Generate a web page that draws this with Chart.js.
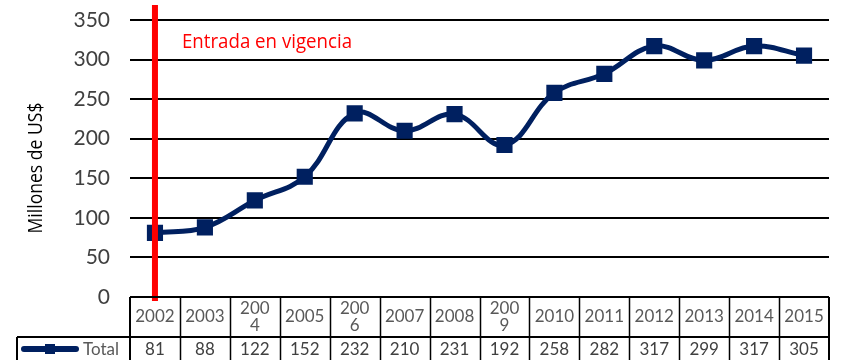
<!DOCTYPE html>
<html>
<head>
<meta charset="utf-8">
<script src="https://cdn.jsdelivr.net/npm/chart.js@4"></script>
<style>
  html, body { margin: 0; padding: 0; background: #fff; }
  #wrap { width: 841px; height: 360px; position: relative; }
</style>
</head>
<body>
<div id="wrap"><canvas id="chart"></canvas></div>
<script>
// Categories (as shown in the table header) and series values
const years = ['2002', '2003', ['200', '4'], '2005', ['200', '6'], '2007', '2008', ['200', '9'], '2010', '2011', '2012', '2013', '2014', '2015'];
const total = [81, 88, 122, 152, 232, 210, 231, 192, 258, 282, 317, 299, 317, 305];
const seriesName = 'Total';
const yTitle = 'Millones de US$';
const markerLabel = 'Entrada en vigencia';

const NAVY = '#002060';
const TABLE_FONT = '17px Lato';

// Vertical marker at the first year plus its caption
const vigenciaPlugin = {
    id: 'vigencia',
    afterDatasetsDraw(chart) {
        const ctx = chart.ctx;
        const x = chart.scales.x.getPixelForValue(0);
        ctx.save();
        ctx.strokeStyle = '#ff0000';
        ctx.lineWidth = 6;
        ctx.beginPath();
        ctx.moveTo(x, 5);
        ctx.lineTo(x, chart.chartArea.bottom + 4);
        ctx.stroke();
        ctx.fillStyle = '#ff0000';
        ctx.font = '20px "Open Sans"';
        ctx.textBaseline = 'alphabetic';
        ctx.textAlign = 'left';
        ctx.fillText(markerLabel, 182, 48, 170);
        ctx.restore();
    }
};

// Y axis title, drawn rotated on the left
const yTitlePlugin = {
    id: 'yTitle',
    afterDraw(chart) {
        const ctx = chart.ctx;
        ctx.save();
        ctx.translate(36, 168);
        ctx.rotate(-Math.PI / 2);
        ctx.fillStyle = '#000';
        ctx.font = '20px "Open Sans"';
        ctx.textAlign = 'center';
        ctx.textBaseline = 'middle';
        ctx.fillText(yTitle, 0, 0, 131);
        ctx.restore();
    }
};

// Data table under the plot: year header row and value row
const dataTablePlugin = {
    id: 'dataTable',
    afterDraw(chart) {
        const ctx = chart.ctx;
        const area = chart.chartArea;
        const xs = chart.scales.x;
        const n = years.length;
        const cellW = (area.right - area.left) / n;
        const top = area.bottom;
        const mid = top + 40;
        const bottom = chart.height + 2;
        const labelLeft = 17;

        ctx.save();
        ctx.strokeStyle = '#000';

        // outer / row borders
        ctx.lineWidth = 2;
        ctx.beginPath();
        ctx.moveTo(area.left, top);
        ctx.lineTo(area.right, top);
        ctx.moveTo(labelLeft, mid);
        ctx.lineTo(area.right, mid);
        ctx.moveTo(labelLeft, mid);
        ctx.lineTo(labelLeft, bottom);
        ctx.moveTo(area.right, top);
        ctx.lineTo(area.right, bottom);
        ctx.moveTo(area.left, top);
        ctx.lineTo(area.left, bottom);
        ctx.stroke();

        // cell dividers
        ctx.lineWidth = 1.5;
        ctx.beginPath();
        for (let i = 1; i < n; i++) {
            const x = Math.round(area.left + i * cellW) + 0.5;
            ctx.moveTo(x, top);
            ctx.lineTo(x, bottom);
        }
        ctx.stroke();

        ctx.font = TABLE_FONT;
        ctx.textAlign = 'center';
        ctx.textBaseline = 'middle';
        years.forEach((label, i) => {
            const x = xs.getPixelForValue(i);
            ctx.fillStyle = '#595959';
            if (Array.isArray(label)) {
                ctx.fillText(label[0], x, top + 12);
                ctx.fillText(label[1], x, top + 29);
            } else {
                ctx.fillText(label, x, top + 20);
            }
            ctx.fillStyle = '#404040';
            ctx.fillText(String(total[i]), x, mid + 13);
        });

        // legend key in the row header
        const ly = mid + 12;
        ctx.strokeStyle = NAVY;
        ctx.lineWidth = 6;
        ctx.lineCap = 'round';
        ctx.beginPath();
        ctx.moveTo(24, ly);
        ctx.lineTo(76, ly);
        ctx.stroke();
        ctx.fillStyle = NAVY;
        ctx.fillRect(45, ly - 5, 10, 10);
        ctx.fillStyle = '#595959';
        ctx.textAlign = 'left';
        ctx.fillText(seriesName, 83, ly + 1);
        ctx.restore();
    }
};

new Chart(document.getElementById('chart'), {
    type: 'line',
    data: {
        labels: years,
        datasets: [{
            label: seriesName,
            data: total,
            borderColor: NAVY,
            backgroundColor: NAVY,
            borderWidth: 5,
            tension: 0.4,
            pointStyle: 'rect',
            pointRadius: 10,
            pointBorderWidth: 2,
            pointBorderColor: NAVY,
            pointBackgroundColor: NAVY
        }]
    },
    options: {
        responsive: true,
        maintainAspectRatio: false,
        animation: false,
        layout: {
            padding: { top: 20, bottom: 63, left: 0, right: 5 }
        },
        plugins: {
            legend: { display: false },
            tooltip: { enabled: false }
        },
        scales: {
            x: {
                display: false,
                offset: true
            },
            y: {
                min: 0,
                max: 350,
                afterFit(scale) {
                    scale.width = 130;
                    scale.paddingTop = 0;
                    scale.paddingBottom = 0;
                },
                ticks: {
                    stepSize: 50,
                    padding: 20,
                    color: '#404040',
                    font: { family: 'Lato', size: 21 }
                },
                grid: {
                    color: '#000',
                    lineWidth: 2,
                    drawTicks: false
                },
                border: { display: false }
            }
        }
    },
    plugins: [vigenciaPlugin, yTitlePlugin, dataTablePlugin]
});
</script>
</body>
</html>
